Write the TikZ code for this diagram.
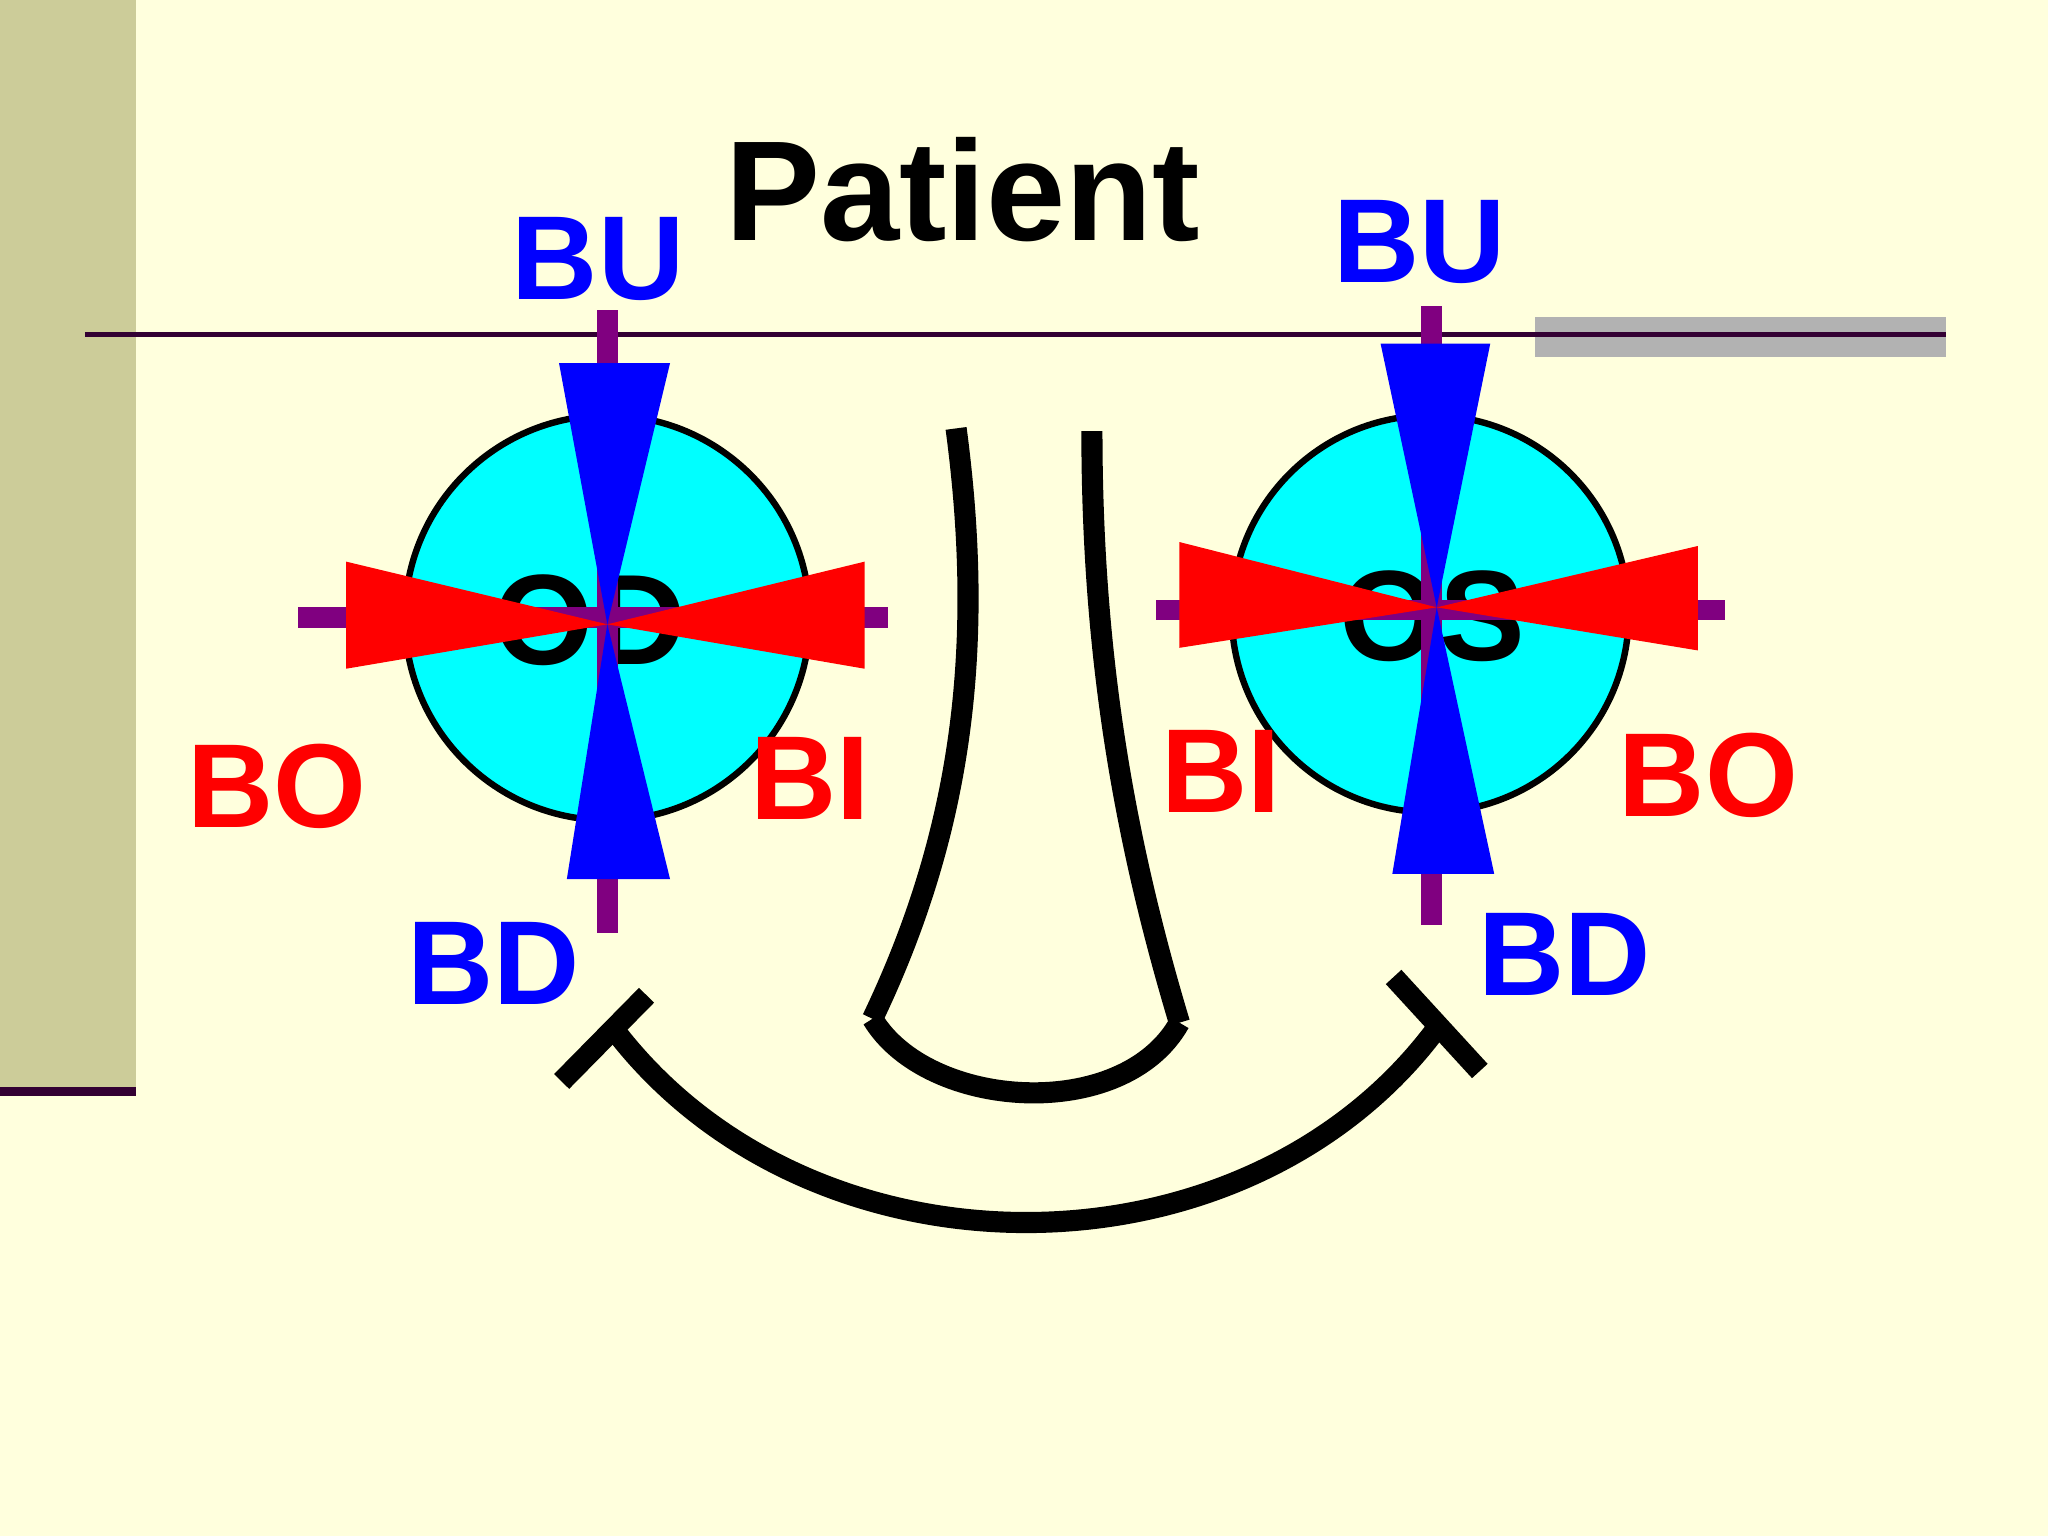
\documentclass[tikz,border=0pt]{standalone}
\usepackage{fontspec}
\setmainfont{Liberation Sans}
\definecolor{bg}{RGB}{255,255,221}
\definecolor{olive}{RGB}{204,204,153}
\definecolor{dpur}{RGB}{51,0,51}
\definecolor{pur}{RGB}{128,0,128}
\definecolor{gbar}{RGB}{178,178,178}
\definecolor{eyecyan}{RGB}{0,255,255}
\begin{document}
\begin{tikzpicture}[x=0.01cm,y=-0.01cm,
  lbl/.style={font=\fontsize{26}{26}\selectfont\bfseries, inner sep=0},
  eyetext/.style={font=\fontsize{28}{28}\selectfont\bfseries},
  eyering/.style={draw=black, line width=1.4pt, fill=eyecyan},
  thick line/.style={line width=4.6pt, black}]
\useasboundingbox (0,0) rectangle (1568,1176);
\fill[bg] (0,0) rectangle (1568,1176);
\fill[olive] (0,0) rectangle (104,835);
\fill[dpur] (0,832) rectangle (104,839);
\fill[gbar] (1175,243) rectangle (1490,273);
\draw[dpur, line width=1pt] (65,256) -- (1490,256);
\node[font=\fontsize{31}{31}\selectfont\bfseries] (title) at (737,145) {Patient};
% OD
\draw[eyering] (465,473) circle (155);
\node[eyetext] (odt) at (452,475) {OD};
\fill[pur] (457,237) rectangle (473,714);
\fill[pur] (228,465) rectangle (680,481);
\fill[red] (465,478) -- (265,430) -- (265,512) -- cycle;
\fill[red] (465,478) -- (662,430) -- (662,512) -- cycle;
\fill[blue] (465,478) -- (428,278) -- (513,278) -- cycle;
\fill[blue] (465,478) -- (434,673) -- (513,673) -- cycle;
% OS
\draw[eyering] (1095,470) circle (152);
\node[eyetext] (ost) at (1097,472) {OS};
\fill[pur] (1088,234) rectangle (1104,708);
\fill[pur] (885,459) rectangle (1321,475);
\fill[red] (1100,465) -- (903,415) -- (903,496) -- cycle;
\fill[red] (1100,465) -- (1300,418) -- (1300,498) -- cycle;
\fill[blue] (1100,465) -- (1057,263) -- (1141,263) -- cycle;
\fill[blue] (1100,465) -- (1066,669) -- (1144,669) -- cycle;
% labels
\node[lbl, text=blue] (bu1) at (458,198) {BU};
\node[lbl, text=blue] (bd1) at (378,738) {BD};
\node[lbl, text=red] (bo1) at (212,602) {BO};
\node[lbl, text=red] (bi1) at (620,596) {BI};
\node[lbl, text=blue] (bu2) at (1087,185) {BU};
\node[lbl, text=blue] (bd2) at (1198,731) {BD};
\node[lbl, text=red] (bi2) at (935,591) {BI};
\node[lbl, text=red] (bo2) at (1308,594) {BO};
% nose
\coordinate (nl1) at (732,328); \coordinate (nl2) at (668,780);
\coordinate (nr1) at (836,330); \coordinate (nr2) at (903,783);
\draw[thick line] (nl1) .. controls (755,500) and (735,640) .. (nl2);
\draw[thick line] (nr1) .. controls (836,500) and (860,640) .. (nr2);
\draw[thick line] (nl2) .. controls (710,850) and (860,860) .. (nr2);
% smile
\coordinate (sl) at (470,788); \coordinate (sr) at (1098,790);
\draw[thick line] (sl) .. controls (620,985) and (950,985) .. (sr);
\draw[thick line] (430,828) -- (495,762);
\draw[thick line] (1067,748) -- (1133,820);
\end{tikzpicture}
\end{document}
